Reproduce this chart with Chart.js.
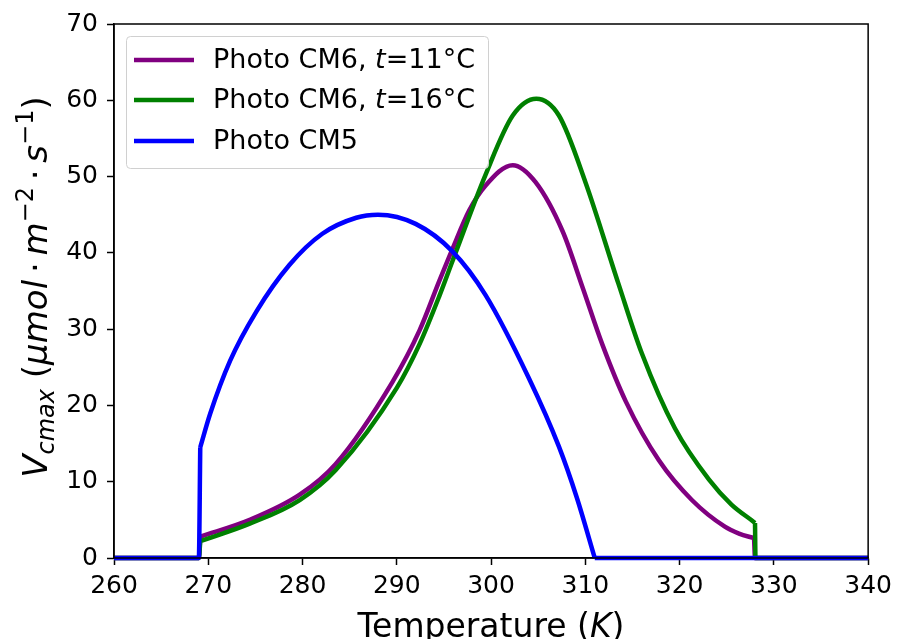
<!DOCTYPE html>
<html>

<head>
    <title>Vcmax</title>
    <script src="https://cdn.jsdelivr.net/npm/chart.js@4.4.0/dist/chart.umd.min.js"></script>
    <style>
        body { margin: 0; background: #fff; }
        #grafico { display: block; }
    </style>
</head>

<body>
    <canvas id="grafico" width="898" height="639"></canvas>

    <script>
        // dados (null = quebra entre o trecho reto e a curva)
        var legendas = ['Photo CM6, t=11°C', 'Photo CM6, t=16°C', 'Photo CM5'];
        var cores = ['#800080', '#008000', '#0000ff'];

        var tempCM6a = [260, 269.0, 269.15, 269.15, 269.15, 274.4, 279.7, 283.5, 289.5, 292.4, 294.5, 295.9, 297.7, 299.4, 302.3, 304.7, 307.6, 309.7, 311.8, 314.3, 317.8, 321.3, 324.8, 326.3, 327.9, 327.9, 327.9, 328.0, 340];
        var vcmaxCM6a = [0, 0, 2.8, null, 2.8, 5.0, 8.3, 12.3, 23.0, 29.8, 36.3, 40.5, 45.6, 48.8, 51.5, 49.3, 42.8, 35.5, 28.0, 20.5, 12.8, 7.6, 4.1, 3.2, 2.6, null, 2.6, 0, 0];

        var tempCM6b = [260, 269.0, 269.15, 269.15, 269.15, 274.4, 279.7, 283.5, 290.0, 292.4, 294.5, 295.9, 299.4, 302.3, 304.8, 307.2, 310.0, 313.5, 316.0, 319.5, 323.1, 325.5, 327.9, 328.0, 328.0, 328.0, 328.05, 340];
        var vcmaxCM6b = [0, 0, 2.2, null, 2.2, 4.5, 7.6, 11.5, 22.3, 28.0, 34.3, 38.9, 50.2, 58.0, 60.2, 58.0, 49.3, 36.0, 26.8, 17.0, 10.3, 7.0, 4.7, 4.6, null, 4.6, 0, 0];

        var tempCM5 = [260, 269.0, 269.15, 269.15, 269.15, 270.2, 272.3, 275.1, 278.6, 282.1, 285.7, 288.0, 292.0, 295.9, 299.4, 304.0, 307.2, 309.1, 311.0, 311.0, 311.0, 340];
        var vcmaxCM5 = [0, 0, 14.5, null, 14.5, 18.9, 25.8, 32.3, 38.4, 42.5, 44.6, 45.0, 43.8, 40.2, 34.5, 23.6, 14.6, 7.9, 0, null, 0, 0];

        var xTicks = [260, 270, 280, 290, 300, 310, 320, 330, 340];
        var yTicks = [0, 10, 20, 30, 40, 50, 60, 70];

        var fonte = 'DejaVu Sans';

        function pontos(xs, ys) {
            var out = [];
            for (var i = 0; i < xs.length; i++) {
                out.push({ x: xs[i], y: ys[i] });
            }
            return out;
        }

        // desenha pedacos de texto com fontes diferentes (italico, subscrito...)
        function medir(ctx, partes) {
            var w = 0;
            partes.forEach(function (p) {
                ctx.font = p.f;
                w += ctx.measureText(p.t).width;
            });
            return w;
        }

        function escrever(ctx, partes, x, y) {
            partes.forEach(function (p) {
                ctx.font = p.f;
                ctx.fillText(p.t, x, y + (p.dy || 0));
                x += ctx.measureText(p.t).width;
            });
        }

        function f(tam, italico) {
            return (italico ? 'italic ' : '') + tam + 'px "' + fonte + '"';
        }

        var tituloY = [
            { t: 'V', f: f(34, true) },
            { t: 'cmax', f: f(24, true), dy: 7 },
            { t: ' (', f: f(34) },
            { t: 'μmol', f: f(34, true) },
            { t: '\u2009·\u2009', f: f(34) },
            { t: 'm', f: f(34, true) },
            { t: '−2', f: f(24), dy: -14 },
            { t: '\u2009·\u2009', f: f(34) },
            { t: 's', f: f(34, true) },
            { t: '−1', f: f(24), dy: -14 },
            { t: ')', f: f(34) }
        ];

        var tituloX = [
            { t: 'Temperature (', f: f(33) },
            { t: 'K', f: f(33, true) },
            { t: ')', f: f(33) }
        ];

        var legendaPartes = [
            [{ t: 'Photo CM6, ', f: f(27) }, { t: 't', f: f(27, true) }, { t: '=11°C', f: f(27) }],
            [{ t: 'Photo CM6, ', f: f(27) }, { t: 't', f: f(27, true) }, { t: '=16°C', f: f(27) }],
            [{ t: 'Photo CM5', f: f(27) }]
        ];

        var extras = {
            id: 'extras',
            afterDraw: function (chart) {
                var ctx = chart.ctx;
                var a = chart.chartArea;
                ctx.save();

                // moldura completa
                ctx.strokeStyle = '#000';
                ctx.lineWidth = 1.5;
                ctx.strokeRect(a.left, a.top, a.right - a.left, a.bottom - a.top);

                // legenda
                ctx.beginPath();
                ctx.roundRect(126.5, 36.5, 362, 132, 4);
                ctx.fillStyle = 'rgba(255,255,255,0.8)';
                ctx.fill();
                ctx.strokeStyle = '#d0d0d0';
                ctx.lineWidth = 1;
                ctx.stroke();

                var linhasY = [60, 100, 141];
                ctx.textBaseline = 'middle';
                for (var i = 0; i < legendas.length; i++) {
                    ctx.beginPath();
                    ctx.moveTo(134, linhasY[i]);
                    ctx.lineTo(194, linhasY[i]);
                    ctx.strokeStyle = cores[i];
                    ctx.lineWidth = 4.5;
                    ctx.stroke();
                    ctx.fillStyle = '#000';
                    escrever(ctx, legendaPartes[i], 213, linhasY[i] + 1);
                }

                // titulos dos eixos
                ctx.textBaseline = 'alphabetic';
                var wx = medir(ctx, tituloX);
                escrever(ctx, tituloX, 491 - wx / 2, 637);

                ctx.translate(47, 287);
                ctx.rotate(-Math.PI / 2);
                var wy = medir(ctx, tituloY);
                escrever(ctx, tituloY, -wy / 2, 0);

                ctx.restore();
            }
        };

        var dados = {
            datasets: [{
                label: legendas[0],
                data: pontos(tempCM6a, vcmaxCM6a),
                borderColor: cores[0],
                order: 3
            }, {
                label: legendas[1],
                data: pontos(tempCM6b, vcmaxCM6b),
                borderColor: cores[1],
                order: 2
            }, {
                label: legendas[2],
                data: pontos(tempCM5, vcmaxCM5),
                borderColor: cores[2],
                order: 1
            }]
        };

        var opcoes = {
            responsive: false,
            animation: false,
            devicePixelRatio: 1,
            layout: {
                padding: { top: 21, right: 28, left: 0, bottom: 0 }
            },
            datasets: {
                line: {
                    borderWidth: 4.5,
                    pointRadius: 0,
                    cubicInterpolationMode: 'monotone',
                    spanGaps: false,
                    clip: false,
                    fill: false
                }
            },
            plugins: {
                legend: { display: false },
                tooltip: { enabled: false }
            },
            scales: {
                x: {
                    type: 'linear',
                    min: 260,
                    max: 340,
                    afterBuildTicks: function (scale) {
                        scale.ticks = xTicks.map(function (v) { return { value: v }; });
                    },
                    afterFit: function (scale) { scale.height = 81; },
                    ticks: {
                        color: '#000',
                        padding: 6,
                        maxRotation: 0,
                        font: { family: fonte, size: 25 }
                    },
                    grid: { drawOnChartArea: false, tickLength: 7, color: '#000', tickWidth: 1.5 },
                    border: { color: '#000', width: 1.5 }
                },
                y: {
                    min: 0,
                    max: 70,
                    afterBuildTicks: function (scale) {
                        scale.ticks = yTicks.map(function (v) { return { value: v }; });
                    },
                    afterFit: function (scale) { scale.width = 114; },
                    ticks: {
                        color: '#000',
                        padding: 9,
                        font: { family: fonte, size: 25 }
                    },
                    grid: { drawOnChartArea: false, tickLength: 7, color: '#000', tickWidth: 1.5 },
                    border: { color: '#000', width: 1.5 }
                }
            }
        };

        var ctx = document.getElementById('grafico').getContext('2d');
        var grafico = new Chart(ctx, {
            type: 'line',
            data: dados,
            options: opcoes,
            plugins: [extras]
        });
    </script>
</body>

</html>
